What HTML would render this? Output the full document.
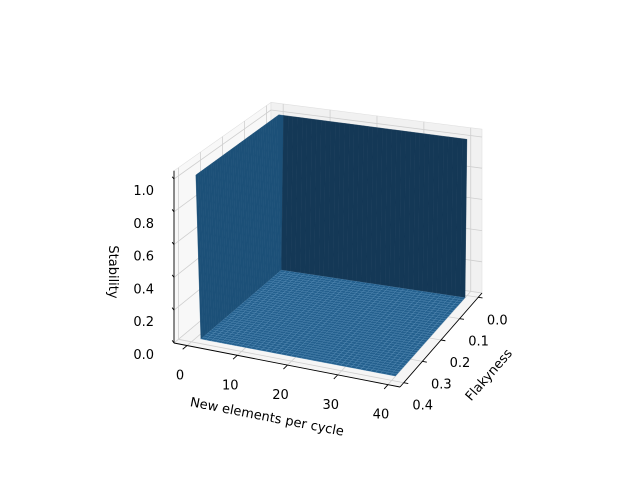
<!DOCTYPE html>
<html><head><meta charset="utf-8"><style>
html,body{margin:0;padding:0;background:#fff;}
svg{display:block;font-family:"DejaVu Sans","Liberation Sans",sans-serif;}
</style></head><body>
<svg id="chart" width="640" height="480" viewBox="0 0 640 480">
<rect width="640" height="480" fill="#fff"/>
<g id="panes"></g>
<g id="grid"></g>
<g id="surface"></g>
<g id="axes"></g>
<text x="267" y="421" font-size="13" text-anchor="middle" transform="rotate(11 267 417)">New elements per cycle</text>
<text x="489" y="379" font-size="13" text-anchor="middle" transform="rotate(-49 489 375)">Flakyness</text>
<text x="113" y="276" font-size="13" text-anchor="middle" transform="rotate(90 113 272)">Stability</text>
</svg>
<script>
// ---- data ----
const xValues = [0,1,2,3,4,5,6,7,8,9,10,11,12,13,14,15,16,17,18,19,20,21,22,23,24,25,26,27,28,29,30,31,32,33,34,35,36,37,38,39,40];
const yValues = [0,0.01,0.02,0.03,0.04,0.05,0.06,0.07,0.08,0.09,0.10,0.11,0.12,0.13,0.14,0.15,0.16,0.17,0.18,0.19,0.20,0.21,0.22,0.23,0.24,0.25,0.26,0.27,0.28,0.29,0.30,0.31,0.32,0.33,0.34,0.35,0.36,0.37,0.38];
// stability at zero flakyness, for each x
const stabilityAtZeroFlaky = [1,1,1,1,1,1,1,1,1,1,1,1,1,1,1,1,1,1,1,1,1,1,1,1,1,1,1,1,1,1,1,1,1,1,1,1,1,1,1,1,1];
// stability at zero new elements, for each y
const stabilityAtZeroElements = [1,1,1,1,1,1,1,1,1,1,1,1,1,1,1,1,1,1,1,1,1,1,1,1,1,1,1,1,1,1,1,1,1,1,1,1,1,1,1];
// stability elsewhere
const stabilityOther = 0;
const xTicks = [0,10,20,30,40];
const yTicks = [0.0,0.1,0.2,0.3,0.4];
const yTickLabels = ["0.0","0.1","0.2","0.3","0.4"];
const zTicks = [0,0.2,0.4,0.6,0.8,1.0];
const zTickLabels = ["0.0","0.2","0.4","0.6","0.8","1.0"];

// ---- projection ----
const xa=-2.6, xb=42.4, ya=-0.02, yb=0.42, zTop=1.05;
const cD=[271,262,152], cC=[482,293,156], cA=[174,343,164], cB=[400,387,168];
function P(x,y,z){
  const u=(x-xa)/(xb-xa), v=(y-ya)/(yb-ya);
  const w=[(1-u)*(1-v),u*(1-v),(1-u)*v,u*v];
  const c=[cD,cC,cA,cB];
  let px=0,py=0,h=0;
  for(let i=0;i<4;i++){px+=w[i]*c[i][0];py+=w[i]*c[i][1];h+=w[i]*c[i][2];}
  return [px, py-h*z];
}
const NS='http://www.w3.org/2000/svg';
function mk(tag,attrs,parent){const e=document.createElementNS(NS,tag);for(const k in attrs)e.setAttribute(k,attrs[k]);parent.appendChild(e);return e;}
function pts(a){return a.map(p=>p[0].toFixed(2)+','+p[1].toFixed(2)).join(' ');}
function line(p,q,stroke,sw,parent,name){
  const l=mk('line',{x1:p[0],y1:p[1],x2:q[0],y2:q[1],stroke:stroke,'stroke-width':sw},parent);
  
  
  return l;
}
const panes=document.getElementById('panes');
const grid=document.getElementById('grid');
const surf=document.getElementById('surface');
const axes=document.getElementById('axes');

// panes
let pn;
pn=mk('polygon',{points:pts([P(xa,ya,0),P(xb,ya,0),P(xb,yb,0),P(xa,yb,0)]),fill:'#f5f5f5',stroke:'#e0e0e0','stroke-width':0.6},panes);


pn=mk('polygon',{points:pts([P(xa,ya,0),P(xa,yb,0),P(xa,yb,zTop),P(xa,ya,zTop)]),fill:'#f8f8f8',stroke:'#e0e0e0','stroke-width':0.6},panes);


pn=mk('polygon',{points:pts([P(xa,ya,0),P(xb,ya,0),P(xb,ya,zTop),P(xa,ya,zTop)]),fill:'#f1f1f1',stroke:'#e0e0e0','stroke-width':0.6},panes);



// grid
const gc='#cfcfcf';
xTicks.forEach(x=>{
  line(P(x,ya,0),P(x,yb,0),gc,0.8,grid,'x-grid-line');
  line(P(x,ya,0),P(x,ya,zTop),gc,0.8,grid,'x-grid-line');
});
yTicks.forEach(y=>{
  line(P(xa,y,0),P(xb,y,0),gc,0.8,grid,'y-grid-line');
  line(P(xa,y,0),P(xa,y,zTop),gc,0.8,grid,'y-grid-line');
});
zTicks.forEach(z=>{
  line(P(xa,ya,z),P(xa,yb,z),gc,0.8,grid,'z-grid-line');
  line(P(xa,ya,z),P(xb,ya,z),gc,0.8,grid,'z-grid-line');
});

// surface
function Z(i,j){
  if(j===0) return stabilityAtZeroFlaky[i];
  if(i===0) return stabilityAtZeroElements[j];
  return stabilityOther;
}
const quads=[];
for(let i=0;i<xValues.length-1;i++){
  for(let j=0;j<yValues.length-1;j++){
    const c=[[i,j],[i+1,j],[i+1,j+1],[i,j+1]].map(([a,b])=>[xValues[a],yValues[b],Z(a,b)]);
    const dzdx=((c[1][2]-c[0][2])+(c[2][2]-c[3][2]))/2;
    const dzdy=((c[3][2]-c[0][2])+(c[2][2]-c[1][2]))/2;
    let fill='rgb(36,96,142)', edge='rgba(95,150,195,0.45)', sw=0.45;
    if(Math.abs(dzdx)>0.01&&Math.abs(dzdx)>=Math.abs(dzdy)){fill='rgb(28,80,120)';edge='rgba(28,80,120,1)';sw=0.3;}
    else if(Math.abs(dzdy)>0.01){fill='rgb(20,56,86)';edge='rgba(20,56,86,1)';sw=0.3;}
    const cx=(c[0][0]+c[2][0])/2, cy=(c[0][1]+c[2][1])/2;
    const u=(cx-xa)/(xb-xa), v=(cy-ya)/(yb-ya);
    quads.push({c,fill,edge,sw,d:u+1.2*v});
  }
}
quads.sort((a,b)=>a.d-b.d);
quads.forEach(q=>{
  const poly=mk('polygon',{points:pts(q.c.map(p=>P(p[0],p[1],p[2]))),fill:q.fill,stroke:q.edge,'stroke-width':q.sw,'stroke-linejoin':'round'},surf);
  
  
});

// axes lines
line(P(xa,yb,0),P(xb,yb,0),'#000',0.9,axes,'x-axis-line');
line(P(xb,yb,0),P(xb,ya,0),'#000',0.9,axes,'y-axis-line');
line(P(xa,yb,0),P(xa,yb,zTop),'#000',0.9,axes,'z-axis-line');
function label(txt,x,y,anchor,name){
  const t=mk('text',{x:x,y:y,'font-size':13,'text-anchor':anchor,fill:'#000'},axes);
  t.textContent=txt;
  
  
}
xTicks.forEach(x=>{
  const p=P(x,yb,0), q=P(x,yb+0.02,0);
  line(p,q,'#000',0.9,axes,'x-tick');
  label(String(x),p[0]-7,p[1]+34,'middle','x-tick-label');
});
yTicks.forEach((y,k)=>{
  const p=P(xb,y,0), q=P(xb+0.9,y,0);
  line(p,q,'#000',0.9,axes,'y-tick');
  label(yTickLabels[k],p[0]+19,p[1]+27,'middle','y-tick-label');
});
zTicks.forEach((z,k)=>{
  const p=P(xa,yb,z), q=P(xa-0.8,yb-0.01,z);
  line(p,q,'#000',0.9,axes,'z-tick');
  label(zTickLabels[k],154,p[1]+16,'end','z-tick-label');
});
</script>
</body></html>
